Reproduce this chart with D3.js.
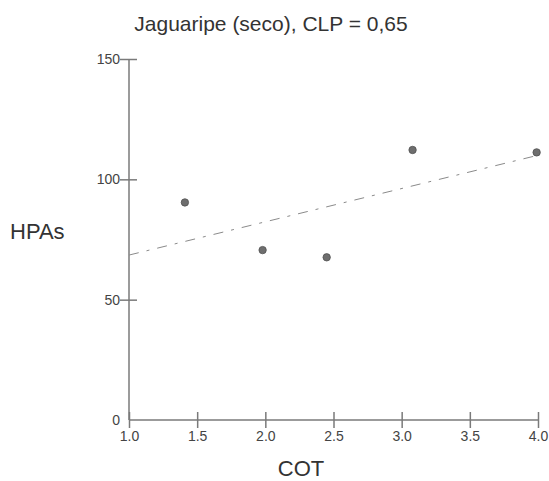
<!DOCTYPE html>
<html>
<head>
<meta charset="utf-8">
<script src="https://cdn.jsdelivr.net/npm/d3@7"></script>
<style>
  body { margin: 0; background: #fff; }
  text { font-family: "Liberation Sans", Arial, sans-serif; fill: #333; }
  .axis path, .axis line { stroke: #7a7a7a; stroke-width: 1.5; }
  .axis text { font-size: 14px; fill: #444; }
</style>
</head>
<body>
<svg></svg>
<script>
var title = "Jaguaripe (seco), CLP = 0,65";
var xLabel = "COT";
var yLabel = "HPAs";

// COT values and HPAs values
var cot = [1.41, 1.98, 2.45, 3.08, 3.99];
var hpas = [90.4, 70.6, 67.6, 112.2, 111.2];

var xTicks = [1.0, 1.5, 2.0, 2.5, 3.0, 3.5, 4.0];
var yTicks = [0, 50, 100, 150];

var W = 549, H = 481;
var margin = { top: 59, right: 11, bottom: 61, left: 129 },
    width = W - margin.left - margin.right,
    height = H - margin.top - margin.bottom;

var svg = d3.select("svg")
    .attr("width", W)
    .attr("height", H);

var g = svg.append("g")
    .attr("transform", "translate(" + margin.left + "," + margin.top + ")");

var x = d3.scaleLinear().domain([1, 4]).range([0, width]);
var y = d3.scaleLinear().domain([0, 150]).range([height, 0]);

// x axis, ticks crossing the line
var xAxis = g.append("g")
    .attr("class", "axis")
    .attr("transform", "translate(0," + height + ")")
    .call(d3.axisBottom(x).tickValues(xTicks).tickFormat(d3.format(".1f")).tickSize(0).tickPadding(11));
xAxis.select(".domain").attr("d", "M0,0H" + width);
xAxis.selectAll(".tick line").attr("y1", -8).attr("y2", 8);

// y axis
var yAxis = g.append("g")
    .attr("class", "axis")
    .call(d3.axisLeft(y).tickValues(yTicks).tickSize(0).tickPadding(9));
yAxis.select(".domain").attr("d", "M0," + height + "V0");
yAxis.selectAll(".tick line").attr("x1", -9).attr("x2", 8)
    .filter(function(d) { return d === 0; }).remove();

// regression line from the data
var mx = d3.mean(cot), my = d3.mean(hpas);
var sxy = d3.sum(cot, function(v, i) { return (v - mx) * (hpas[i] - my); });
var sxx = d3.sum(cot, function(v) { return (v - mx) * (v - mx); });
var slope = sxy / sxx, icpt = my - slope * mx;
var fit = x.domain().map(function(v) { return [v, icpt + slope * v]; });

g.append("path")
    .datum(fit)
    .attr("d", d3.line().x(function(d) { return x(d[0]); }).y(function(d) { return y(d[1]); }))
    .style("fill", "none")
    .style("stroke", "#8a8a8a")
    .style("stroke-width", 1)
    .style("stroke-dasharray", "10,8,3,8");

g.selectAll(".dot")
    .data(cot)
    .enter().append("circle")
    .attr("class", "dot")
    .attr("cx", function(d) { return x(d); })
    .attr("cy", function(d, i) { return y(hpas[i]); })
    .attr("r", 3.7)
    .style("fill", "#6e6e6e")
    .style("stroke", "#505050")
    .style("stroke-width", 0.8);

svg.append("text")
    .attr("x", 271)
    .attr("y", 31)
    .style("text-anchor", "middle")
    .style("font-size", "21px")
    .text(title);

svg.append("text")
    .attr("x", 10)
    .attr("y", 239)
    .style("font-size", "22px")
    .text(yLabel);

svg.append("text")
    .attr("x", 301)
    .attr("y", 476)
    .style("text-anchor", "middle")
    .style("font-size", "22px")
    .text(xLabel);
</script>
</body>
</html>
